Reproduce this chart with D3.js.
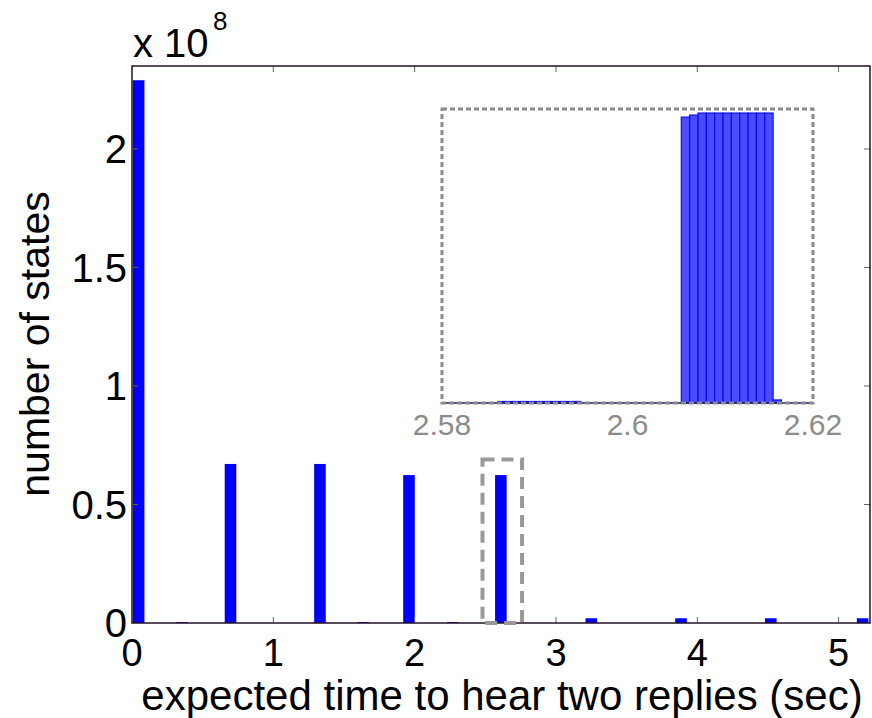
<!DOCTYPE html>
<html>
<head>
<meta charset="utf-8">
<script src="https://cdn.jsdelivr.net/npm/d3@7"></script>
<style>
  body { margin: 0; background: #fff; }
  text { font-family: "Liberation Sans", Arial, Helvetica, sans-serif; }
</style>
</head>
<body>
<div id="chart"></div>
<script>
// Histogram bins (centers, sec) and counts (x 10^8)
var binCenters = [0.047, 0.354, 0.697, 1.33, 1.635, 1.96, 2.27, 2.61, 3.25, 3.885, 4.52, 5.17];
var binCounts  = [2.29, 0.004, 0.671, 0.671, 0.004, 0.624, 0.004, 0.624, 0.02, 0.02, 0.02, 0.02];
var xTicks = [0, 1, 2, 3, 4, 5];
var yTicks = [0, 0.5, 1, 1.5, 2];

// Zoomed inset: fine bins around 2.6 sec (left edges) and counts (x 10^6)
var insetLeft  = [2.5860, 2.5869, 2.5878, 2.5887, 2.5896, 2.5905, 2.5914, 2.5923, 2.5932, 2.5941,
                  2.6058, 2.6067, 2.6076, 2.6085, 2.6094, 2.6103, 2.6112, 2.6121, 2.6130, 2.6139, 2.6148,
                  2.6157];
var insetCounts = [0.03, 0.03, 0.03, 0.03, 0.03, 0.03, 0.03, 0.03, 0.03, 0.03,
                   5.64, 5.68, 5.72, 5.72, 5.72, 5.72, 5.72, 5.72, 5.72, 5.72, 5.72,
                   0.06];
var insetTicks = [2.58, 2.6, 2.62];
var zoomWindow = {x0: 2.48, x1: 2.76, y1: 0.69};   // dashed box on the main plot

var width = 872, height = 718;
var margin = {left: 132, top: 66, right: 2, bottom: 95};
var binWidth = 0.082, insetBinWidth = 0.0009;

var svg = d3.select("#chart").append("svg")
    .attr("width", width)
    .attr("height", height);

var x = d3.scaleLinear().domain([0, 5.222]).range([margin.left, width - margin.right]);
var y = d3.scaleLinear().domain([0, 2.35]).range([height - margin.bottom, margin.top]);

var axisColor = "#241024";

// bars
svg.append("g").selectAll("rect")
    .data(binCenters)
    .enter().append("rect")
    .attr("x", (d) => x(d - binWidth / 2))
    .attr("width", (d) => x(binWidth) - x(0))
    .attr("y", (d, i) => y(binCounts[i]))
    .attr("height", (d, i) => Math.max(1, y(0) - y(binCounts[i])))
    .attr("fill", "#0000ff");

// clip the first bar at the axis
svg.append("rect")
    .attr("x", 0).attr("y", margin.top)
    .attr("width", margin.left).attr("height", height - margin.top - margin.bottom)
    .attr("fill", "#fff");

// tick marks on all four sides (inward, matlab style)
var tickLen = 6;
var ticks = svg.append("g").attr("stroke", "#666").attr("stroke-width", 1);
xTicks.slice(1).forEach(function(t) {
    ticks.append("line").attr("x1", x(t)).attr("x2", x(t))
        .attr("y1", y(0)).attr("y2", y(0) - tickLen);
    ticks.append("line").attr("x1", x(t)).attr("x2", x(t))
        .attr("y1", margin.top).attr("y2", margin.top + tickLen);
});
yTicks.slice(1).forEach(function(t) {
    ticks.append("line").attr("x1", margin.left).attr("x2", margin.left + tickLen)
        .attr("y1", y(t)).attr("y2", y(t));
    ticks.append("line").attr("x1", width - margin.right).attr("x2", width - margin.right - tickLen)
        .attr("y1", y(t)).attr("y2", y(t));
});

// frame
svg.append("rect")
    .attr("x", margin.left).attr("y", margin.top)
    .attr("width", width - margin.right - margin.left)
    .attr("height", y(0) - margin.top)
    .attr("fill", "none")
    .attr("stroke", axisColor)
    .attr("stroke-width", 1.5);

// tick labels
svg.append("g").selectAll("text")
    .data(xTicks)
    .enter().append("text")
    .attr("x", (d) => x(d))
    .attr("y", 666)
    .attr("text-anchor", "middle")
    .attr("font-size", 38)
    .text((d) => d);

svg.append("g").selectAll("text")
    .data(yTicks)
    .enter().append("text")
    .attr("x", 127)
    .attr("y", (d) => y(d))
    .attr("dy", "0.36em")
    .attr("text-anchor", "end")
    .attr("font-size", 40)
    .text((d) => d);

// exponent
svg.append("text").attr("x", 133).attr("y", 57).attr("font-size", 40).text("x 10");
svg.append("text").attr("x", 213).attr("y", 30).attr("font-size", 26).text("8");

// axis labels
svg.append("text")
    .attr("x", 502).attr("y", 710)
    .attr("text-anchor", "middle")
    .attr("font-size", 42)
    .text("expected time to hear two replies (sec)");

svg.append("text")
    .attr("transform", "translate(49,344) rotate(-90)")
    .attr("text-anchor", "middle")
    .attr("font-size", 41)
    .text("number of states");

// dashed zoom window on the main plot
svg.append("rect")
    .attr("x", x(zoomWindow.x0)).attr("y", y(zoomWindow.y1))
    .attr("width", x(zoomWindow.x1) - x(zoomWindow.x0))
    .attr("height", y(0) - y(zoomWindow.y1))
    .attr("fill", "none")
    .attr("stroke", "#999")
    .attr("stroke-width", 4)
    .attr("stroke-dasharray", "12,7");

// inset
var ix = d3.scaleLinear().domain([2.58, 2.62]).range([442, 813]);
var iy = d3.scaleLinear().domain([0, 5.8]).range([403, 109]);

svg.append("rect")
    .attr("x", ix(2.58)).attr("y", iy(5.8))
    .attr("width", ix(2.62) - ix(2.58)).attr("height", iy(0) - iy(5.8))
    .attr("fill", "#fff");

svg.append("g").selectAll("rect")
    .data(insetLeft)
    .enter().append("rect")
    .attr("x", (d) => ix(d))
    .attr("width", ix(insetBinWidth) - ix(0))
    .attr("y", (d, i) => iy(insetCounts[i]))
    .attr("height", (d, i) => Math.max(1, iy(0) - iy(insetCounts[i])))
    .attr("fill", "#4b4bff")
    .attr("stroke", "#0a0aff")
    .attr("stroke-width", 1.2);

svg.append("line")
    .attr("x1", ix(2.58)).attr("x2", ix(2.62))
    .attr("y1", iy(0)).attr("y2", iy(0))
    .attr("stroke", "#1a1a6a")
    .attr("stroke-width", 1.5);

svg.append("rect")
    .attr("x", ix(2.58)).attr("y", iy(5.8))
    .attr("width", ix(2.62) - ix(2.58)).attr("height", iy(0) - iy(5.8))
    .attr("fill", "none")
    .attr("stroke", "#8a8a8a")
    .attr("stroke-width", 3)
    .attr("stroke-dasharray", "5,3");

svg.append("g").selectAll("text")
    .data(insetTicks)
    .enter().append("text")
    .attr("x", (d) => ix(d))
    .attr("y", 435)
    .attr("text-anchor", "middle")
    .attr("font-size", 30)
    .attr("fill", "#8c8c8c")
    .text((d) => d);
</script>
</body>
</html>
